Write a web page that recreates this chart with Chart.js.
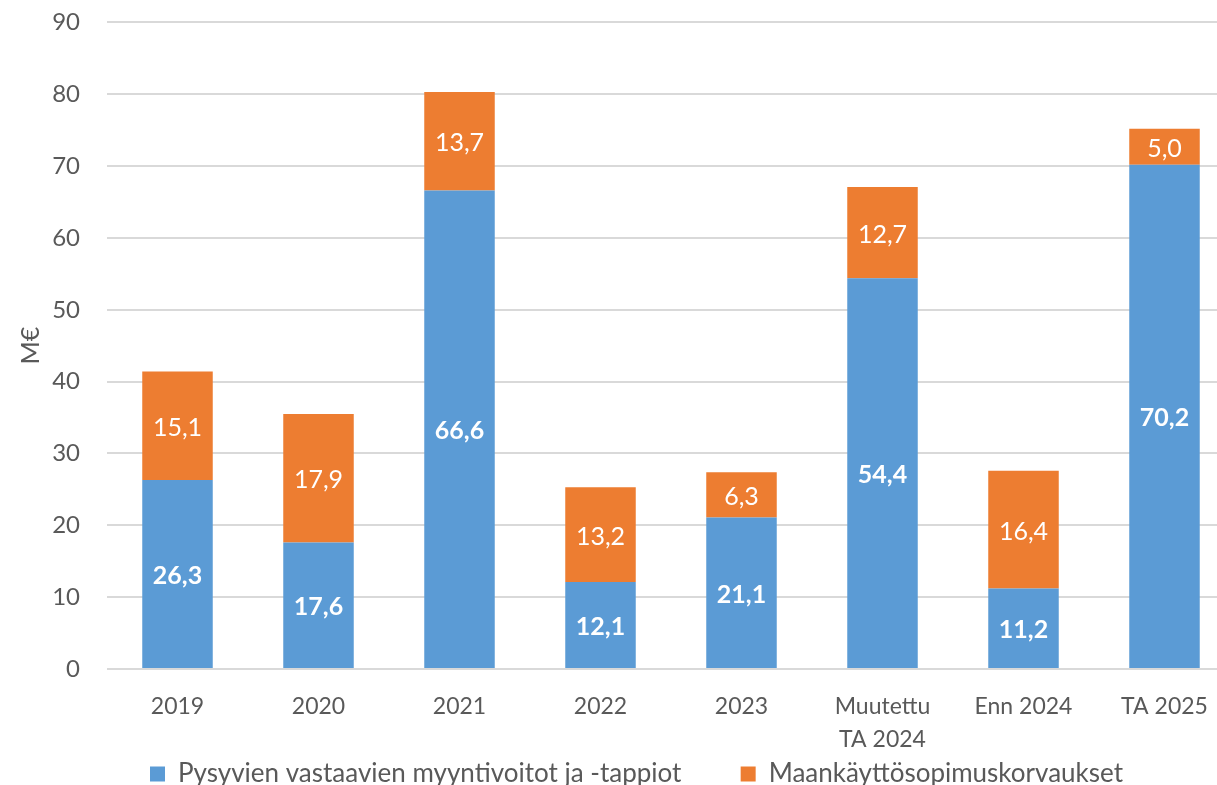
<!DOCTYPE html>
<html>
<head>
<meta charset="utf-8">
<script src="https://cdn.jsdelivr.net/npm/chart.js@4"></script>
<style>
  html, body { margin: 0; padding: 0; overflow: hidden; background: #fff; }
  #wrap { width: 1235px; height: 816px; margin-top: -19px; }
</style>
</head>
<body>
<div id="wrap"><canvas id="myChart"></canvas></div>
<script>
const labels = ['2019', '2020', '2021', '2022', '2023', ['Muutettu', 'TA 2024'], 'Enn 2024', 'TA 2025']
const myyntivoitot = [26.3, 17.6, 66.6, 12.1, 21.1, 54.4, 11.2, 70.2]
const korvaukset = [15.1, 17.9, 13.7, 13.2, 6.3, 12.7, 16.4, 5.0]

const fontFamily = 'Lato, "Open Sans", sans-serif'
const grey = '#595959'

// labels in the middle of each bar segment
const barLabels = {
  id: 'barLabels',
  afterDatasetsDraw(chart) {
    const c = chart.ctx
    chart.data.datasets.forEach((ds, i) => {
      chart.getDatasetMeta(i).data.forEach((bar, j) => {
        const mid = (bar.y + bar.base) / 2
        c.save()
        c.fillStyle = '#ffffff'
        c.font = (i === 0 ? 'bold ' : '') + '25px ' + fontFamily
        c.textAlign = 'center'
        c.textBaseline = 'middle'
        c.fillText(ds.data[j].toFixed(1).replace('.', ','), bar.x, mid + 2)
        c.restore()
      })
    })
  }
}

// nudge the legend a little to the right
const legendShift = {
  id: 'legendShift',
  afterLayout(chart) {
    chart.legend.left += 13
    chart.legend.right += 13
  }
}

const ctx = document.getElementById('myChart')

new Chart(ctx, {
  type: 'bar',
  data: {
    labels,
    datasets: [{
      label: 'Pysyvien vastaavien myyntivoitot ja -tappiot',
      data: myyntivoitot,
      backgroundColor: '#5b9bd5'
    }, {
      label: 'Maankäyttösopimuskorvaukset',
      data: korvaukset,
      backgroundColor: '#ed7d31'
    }]
  },
  options: {
    responsive: true,
    maintainAspectRatio: false,
    animation: false,
    layout: { padding: { top: 0, left: 12, right: 0, bottom: 0 } },
    datasets: {
      bar: { barPercentage: 0.5, categoryPercentage: 1 }
    },
    scales: {
      x: {
        stacked: true,
        grid: { display: false, drawTicks: false },
        border: { color: '#d9d9d9' },
        ticks: { color: grey, padding: 21, font: { family: fontFamily, size: 23, lineHeight: 1.43 }, maxRotation: 0, autoSkip: false },
        afterFit(scale) { scale.height = 88 }
      },
      y: {
        stacked: true,
        min: 0,
        max: 90,
        ticks: { stepSize: 10, color: grey, padding: 27, font: { family: fontFamily, size: 24 } },
        grid: { color: '#d9d9d9', lineWidth: 2, drawTicks: false },
        border: { display: false },
        title: { display: true, text: 'M€', color: grey, font: { family: fontFamily, size: 25 } },
        afterFit(scale) { scale.width = 95 }
      }
    },
    plugins: {
      legend: {
        position: 'bottom',
        labels: {
          color: grey,
          boxWidth: 15,
          boxHeight: 15,
          padding: 4,
          font: { family: fontFamily, size: 26 },
          generateLabels(chart) {
            const items = Chart.defaults.plugins.legend.labels.generateLabels(chart)
            items[0].text += '\u2003\u2003\u2002\u2009'
            return items
          }
        }
      },
      tooltip: { enabled: false }
    }
  },
  plugins: [barLabels, legendShift]
})
</script>
</body>
</html>
